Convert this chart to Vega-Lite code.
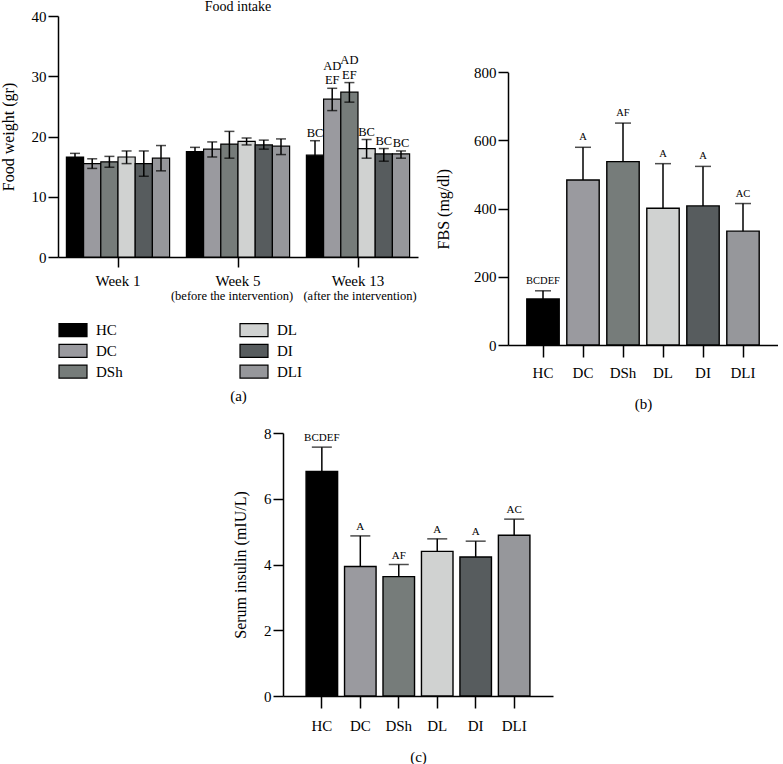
{
"$schema": "https://vega.github.io/schema/vega-lite/v6.json",
"background": "white",
"padding": {"left": 0, "top": 0, "right": 0, "bottom": 0},
"config": {
  "font": "Liberation Serif",
  "view": {"stroke": null},
  "axis": {"domainColor": "black", "domainWidth": 1.5, "tickColor": "black", "tickWidth": 1.5, "tickSize": 10, "labelColor": "black", "titleColor": "black", "labelFont": "Liberation Serif", "titleFont": "Liberation Serif", "titleFontWeight": "normal", "labelFontSize": 15, "titleFontSize": 16, "grid": false},
  "text": {"font": "Liberation Serif", "color": "black"}
},
"center": true,
"spacing": 15,
"resolve": {"scale": {"color": "independent"}},
"vconcat": [
 {
  "hconcat": [
   {
    "width": 360, "height": 241,
    "title": {"text": "Food intake", "fontSize": 14, "offset": -5, "fontWeight": "normal", "font": "Liberation Serif", "color": "black"},
    "data": {"values": [
      {"week": "Week 1", "group": "HC", "mean": 16.6, "lo": 16.0, "hi": 17.2, "label": "", "label2": ""},
      {"week": "Week 1", "group": "DC", "mean": 15.5, "lo": 14.7, "hi": 16.3, "label": "", "label2": ""},
      {"week": "Week 1", "group": "DSh", "mean": 15.8, "lo": 14.9, "hi": 16.7, "label": "", "label2": ""},
      {"week": "Week 1", "group": "DL", "mean": 16.6, "lo": 15.5, "hi": 17.6, "label": "", "label2": ""},
      {"week": "Week 1", "group": "DI", "mean": 15.5, "lo": 13.4, "hi": 17.6, "label": "", "label2": ""},
      {"week": "Week 1", "group": "DLI", "mean": 16.4, "lo": 14.3, "hi": 18.5, "label": "", "label2": ""},
      {"week": "Week 5", "group": "HC", "mean": 17.5, "lo": 16.8, "hi": 18.2, "label": "", "label2": ""},
      {"week": "Week 5", "group": "DC", "mean": 17.9, "lo": 16.6, "hi": 19.1, "label": "", "label2": ""},
      {"week": "Week 5", "group": "DSh", "mean": 18.75, "lo": 16.4, "hi": 20.85, "label": "", "label2": ""},
      {"week": "Week 5", "group": "DL", "mean": 19.2, "lo": 18.6, "hi": 19.75, "label": "", "label2": ""},
      {"week": "Week 5", "group": "DI", "mean": 18.6, "lo": 17.9, "hi": 19.4, "label": "", "label2": ""},
      {"week": "Week 5", "group": "DLI", "mean": 18.4, "lo": 17.0, "hi": 19.6, "label": "", "label2": ""},
      {"week": "Week 13", "group": "HC", "mean": 16.9, "lo": 14.4, "hi": 19.3, "label": "BC", "label2": ""},
      {"week": "Week 13", "group": "DC", "mean": 26.2, "lo": 24.3, "hi": 28.0, "label": "EF", "label2": "AD"},
      {"week": "Week 13", "group": "DSh", "mean": 27.35, "lo": 25.7, "hi": 28.95, "label": "EF", "label2": "AD"},
      {"week": "Week 13", "group": "DL", "mean": 18.0, "lo": 16.4, "hi": 19.5, "label": "BC", "label2": ""},
      {"week": "Week 13", "group": "DI", "mean": 17.1, "lo": 15.9, "hi": 18.0, "label": "BC", "label2": ""},
      {"week": "Week 13", "group": "DLI", "mean": 17.1, "lo": 16.4, "hi": 17.6, "label": "BC", "label2": ""}
    ]},
    "encoding": {
      "x": {"field": "week", "type": "nominal", "sort": ["Week 1", "Week 5", "Week 13"], "scale": {"paddingInner": 0.14, "paddingOuter": 0.07},
            "axis": {"title": "(a)", "labelAngle": 0, "labelPadding": 6, "titlePadding": 100, "titleFontSize": 15}}
    },
    "layer": [
      {"mark": {"type": "bar", "stroke": "black", "strokeWidth": 1.2},
       "encoding": {
         "xOffset": {"field": "group", "type": "nominal", "sort": ["HC", "DC", "DSh", "DL", "DI", "DLI"], "scale": {"paddingInner": 0, "paddingOuter": 0}},
         "y": {"field": "mean", "type": "quantitative", "title": "Food weight (gr)", "scale": {"domain": [0, 40]}, "axis": {"values": [0, 10, 20, 30, 40], "titlePadding": 15}},
         "color": {"field": "group", "type": "nominal",
           "scale": {"domain": ["HC", "DC", "DSh", "DL", "DI", "DLI"], "range": ["#000000", "#9a9a9f", "#767c7a", "#d0d2d1", "#575c5e", "#96979b"]},
           "legend": {"orient": "none", "legendX": 4, "legendY": 303, "columns": 2, "columnPadding": 114, "rowPadding": 0.8, "title": null,
             "symbolType": "M-1.4,-0.65H1.4V0.65H-1.4Z", "symbolSize": 400, "symbolStrokeColor": "black", "symbolStrokeWidth": 1.2, "symbolOpacity": 1,
             "labelFontSize": 15, "labelOffset": 12, "labelFont": "Liberation Serif", "labelColor": "black"}}
       }},
      {"mark": {"type": "rule", "color": "black", "strokeWidth": 1.5},
       "encoding": {
         "xOffset": {"field": "group", "type": "nominal", "sort": ["HC", "DC", "DSh", "DL", "DI", "DLI"]},
         "y": {"field": "lo", "type": "quantitative", "title": "Food weight (gr)"}, "y2": {"field": "hi"}}},
      {"mark": {"type": "tick", "color": "black", "thickness": 1.5, "size": 10},
       "encoding": {
         "xOffset": {"field": "group", "type": "nominal", "sort": ["HC", "DC", "DSh", "DL", "DI", "DLI"]},
         "y": {"field": "lo", "type": "quantitative", "title": "Food weight (gr)"}}},
      {"mark": {"type": "tick", "color": "black", "thickness": 1.5, "size": 10},
       "encoding": {
         "xOffset": {"field": "group", "type": "nominal", "sort": ["HC", "DC", "DSh", "DL", "DI", "DLI"]},
         "y": {"field": "hi", "type": "quantitative", "title": "Food weight (gr)"}}},
      {"transform": [{"filter": "datum.label != ''"}],
       "mark": {"type": "text", "baseline": "bottom", "dy": -1, "fontSize": 12.5},
       "encoding": {
         "xOffset": {"field": "group", "type": "nominal", "sort": ["HC", "DC", "DSh", "DL", "DI", "DLI"]},
         "y": {"field": "hi", "type": "quantitative", "title": "Food weight (gr)"},
         "text": {"field": "label"}}},
      {"transform": [{"filter": "datum.label2 != ''"}],
       "mark": {"type": "text", "baseline": "bottom", "dy": -15.5, "fontSize": 12.5},
       "encoding": {
         "xOffset": {"field": "group", "type": "nominal", "sort": ["HC", "DC", "DSh", "DL", "DI", "DLI"]},
         "y": {"field": "hi", "type": "quantitative", "title": "Food weight (gr)"},
         "text": {"field": "label2"}}},
      {"data": {"values": [{"week": "Week 5", "note": "(before the intervention)"}]},
       "mark": {"type": "text", "baseline": "middle", "dy": 39, "dx": -6, "fontSize": 12.5},
       "encoding": {"y": {"datum": 0}, "text": {"field": "note"}}},
      {"data": {"values": [{"week": "Week 13", "note": "(after the intervention)"}]},
       "mark": {"type": "text", "baseline": "middle", "dy": 39, "dx": 2, "fontSize": 12.5},
       "encoding": {"y": {"datum": 0}, "text": {"field": "note"}}}
    ]
   },
   {
    "width": 270, "height": 329,
    "data": {"values": [
      {"group": "HC", "mean": 135, "hi": 159, "label": "BCDEF"},
      {"group": "DC", "mean": 484, "hi": 580, "label": "A"},
      {"group": "DSh", "mean": 538, "hi": 651, "label": "AF"},
      {"group": "DL", "mean": 401, "hi": 532, "label": "A"},
      {"group": "DI", "mean": 408, "hi": 524, "label": "A"},
      {"group": "DLI", "mean": 334, "hi": 415, "label": "AC"}
    ]},
    "encoding": {
      "x": {"field": "group", "type": "nominal", "sort": ["HC", "DC", "DSh", "DL", "DI", "DLI"], "scale": {"paddingInner": 0.19, "paddingOuter": 0.47},
            "axis": {"title": "(b)", "labelAngle": 0, "labelPadding": 8, "tickSize": 12, "titlePadding": 16, "titleFontSize": 15}}
    },
    "layer": [
      {"mark": {"type": "bar", "stroke": "black", "strokeWidth": 1.4},
       "encoding": {
         "y": {"field": "mean", "type": "quantitative", "title": "FBS (mg/dl)", "scale": {"domain": [0, 800], "range": [329, 56.3]}, "axis": {"values": [0, 200, 400, 600, 800], "titlePadding": 22}},
         "color": {"field": "group", "type": "nominal", "legend": null,
           "scale": {"domain": ["HC", "DC", "DSh", "DL", "DI", "DLI"], "range": ["#000000", "#9a9a9f", "#767c7a", "#d0d2d1", "#575c5e", "#96979b"]}}
       }},
      {"mark": {"type": "rule", "color": "black", "strokeWidth": 1.5},
       "encoding": {"y": {"field": "mean", "type": "quantitative", "title": "FBS (mg/dl)"}, "y2": {"field": "hi"}}},
      {"mark": {"type": "tick", "color": "black", "thickness": 1.5, "size": 16},
       "encoding": {"y": {"field": "hi", "type": "quantitative", "title": "FBS (mg/dl)"}}},
      {"mark": {"type": "text", "baseline": "alphabetic", "dy": -7, "fontSize": 10.5},
       "encoding": {"y": {"field": "hi", "type": "quantitative", "title": "FBS (mg/dl)"}, "text": {"field": "label"}}}
    ]
   }
  ],
  "spacing": 90,
  "bounds": "flush",
  "resolve": {"scale": {"color": "independent"}}
 },
 {
  "width": 270, "height": 263,
  "data": {"values": [
    {"group": "HC", "mean": 6.83, "hi": 7.57, "label": "BCDEF"},
    {"group": "DC", "mean": 3.94, "hi": 4.87, "label": "A"},
    {"group": "DSh", "mean": 3.63, "hi": 4.0, "label": "AF"},
    {"group": "DL", "mean": 4.40, "hi": 4.78, "label": "A"},
    {"group": "DI", "mean": 4.23, "hi": 4.71, "label": "A"},
    {"group": "DLI", "mean": 4.89, "hi": 5.38, "label": "AC"}
  ]},
  "encoding": {
    "x": {"field": "group", "type": "nominal", "sort": ["HC", "DC", "DSh", "DL", "DI", "DLI"], "scale": {"paddingInner": 0.18, "paddingOuter": 0.6},
          "axis": {"title": "(c)", "labelAngle": 0, "labelPadding": 10, "tickSize": 12, "titlePadding": 16, "titleFontSize": 15}}
  },
  "layer": [
    {"mark": {"type": "bar", "stroke": "black", "strokeWidth": 1.4},
     "encoding": {
       "y": {"field": "mean", "type": "quantitative", "title": "Serum insulin (mIU/L)", "scale": {"domain": [0, 8]}, "axis": {"values": [0, 2, 4, 6, 8], "titlePadding": 15}},
       "color": {"field": "group", "type": "nominal", "legend": null,
         "scale": {"domain": ["HC", "DC", "DSh", "DL", "DI", "DLI"], "range": ["#000000", "#9a9a9f", "#767c7a", "#d0d2d1", "#575c5e", "#96979b"]}}
     }},
    {"mark": {"type": "rule", "color": "black", "strokeWidth": 1.5},
     "encoding": {"y": {"field": "mean", "type": "quantitative", "title": "Serum insulin (mIU/L)"}, "y2": {"field": "hi"}}},
    {"mark": {"type": "tick", "color": "black", "thickness": 1.5, "size": 20},
     "encoding": {"y": {"field": "hi", "type": "quantitative", "title": "Serum insulin (mIU/L)"}}},
    {"mark": {"type": "text", "baseline": "alphabetic", "dy": -6, "fontSize": 11},
     "encoding": {"y": {"field": "hi", "type": "quantitative", "title": "Serum insulin (mIU/L)"}, "text": {"field": "label"}}}
  ]
 }
]
}
